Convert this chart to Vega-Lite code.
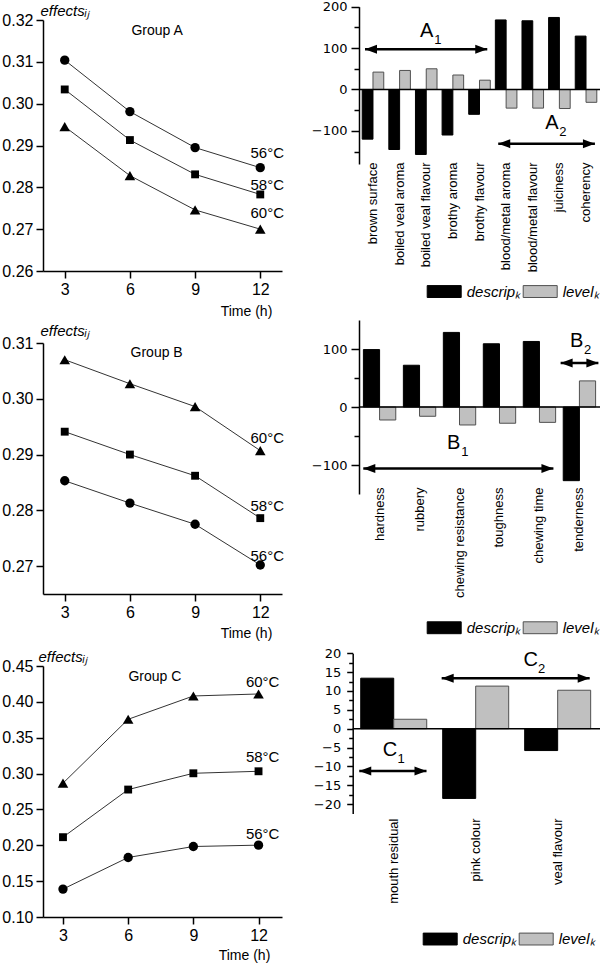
{
"$schema": "https://vega.github.io/schema/vega-lite/v6.json",
"autosize": {"type": "none"},
"padding": {"left": 43, "top": 20, "right": 557, "bottom": 946},
"background": "white",
"config": {
  "view": {"stroke": null},
  "axis": {"domainColor": "black", "domainWidth": 1.5, "tickColor": "black", "tickWidth": 1.5, "labelColor": "black", "titleColor": "black", "grid": false, "labelFont": "Liberation Sans", "titleFont": "Liberation Sans", "titleFontWeight": "normal", "labelOverlap": false},
  "text": {"font": "Liberation Sans", "color": "black"},
  "legend": {"labelColor": "black"}
},
"datasets": {
  "lines": [
    {"g":"A","t":"56","h":3,"v":0.3104},{"g":"A","t":"56","h":6,"v":0.2981},{"g":"A","t":"56","h":9,"v":0.2895},{"g":"A","t":"56","h":12,"v":0.2847},
    {"g":"A","t":"58","h":3,"v":0.3034},{"g":"A","t":"58","h":6,"v":0.2913},{"g":"A","t":"58","h":9,"v":0.2831},{"g":"A","t":"58","h":12,"v":0.2783},
    {"g":"A","t":"60","h":3,"v":0.2945},{"g":"A","t":"60","h":6,"v":0.2828},{"g":"A","t":"60","h":9,"v":0.2746},{"g":"A","t":"60","h":12,"v":0.2700},
    {"g":"B","t":"60","h":3,"v":0.3070},{"g":"B","t":"60","h":6,"v":0.3027},{"g":"B","t":"60","h":9,"v":0.2986},{"g":"B","t":"60","h":12,"v":0.2907},
    {"g":"B","t":"58","h":3,"v":0.2941},{"g":"B","t":"58","h":6,"v":0.2900},{"g":"B","t":"58","h":9,"v":0.2862},{"g":"B","t":"58","h":12,"v":0.2786},
    {"g":"B","t":"56","h":3,"v":0.2853},{"g":"B","t":"56","h":6,"v":0.2813},{"g":"B","t":"56","h":9,"v":0.2775},{"g":"B","t":"56","h":12,"v":0.2702},
    {"g":"C","t":"60","h":3,"v":0.2866},{"g":"C","t":"60","h":6,"v":0.3757},{"g":"C","t":"60","h":9,"v":0.4082},{"g":"C","t":"60","h":12,"v":0.4110},
    {"g":"C","t":"58","h":3,"v":0.2113},{"g":"C","t":"58","h":6,"v":0.2777},{"g":"C","t":"58","h":9,"v":0.3004},{"g":"C","t":"58","h":12,"v":0.3032},
    {"g":"C","t":"56","h":3,"v":0.1389},{"g":"C","t":"56","h":6,"v":0.1830},{"g":"C","t":"56","h":9,"v":0.1983},{"g":"C","t":"56","h":12,"v":0.2002}
  ],
  "tlabels": [
    {"g":"A","lab":"56°C","h":12.32,"v":0.2882},{"g":"A","lab":"58°C","h":12.32,"v":0.2806},{"g":"A","lab":"60°C","h":12.32,"v":0.2739},
    {"g":"B","lab":"60°C","h":12.32,"v":0.2929},{"g":"B","lab":"58°C","h":12.32,"v":0.2807},{"g":"B","lab":"56°C","h":12.32,"v":0.2719},
    {"g":"C","lab":"60°C","h":12.19,"v":0.4281},{"g":"C","lab":"58°C","h":12.19,"v":0.3237},{"g":"C","lab":"56°C","h":12.19,"v":0.216}
  ],
  "glabels": [
    {"g":"A","lab":"Group A","h":7.25,"v":0.3174},
    {"g":"B","lab":"Group B","h":7.23,"v":0.3082},
    {"g":"C","lab":"Group C","h":7.23,"v":0.435}
  ],
  "bars": [
    {"g":"A","attr":"brown surface","s":"descrip","v":-120},{"g":"A","attr":"brown surface","s":"level","v":42},
    {"g":"A","attr":"boiled veal aroma","s":"descrip","v":-145},{"g":"A","attr":"boiled veal aroma","s":"level","v":46},
    {"g":"A","attr":"boiled veal flavour","s":"descrip","v":-157},{"g":"A","attr":"boiled veal flavour","s":"level","v":50},
    {"g":"A","attr":"brothy aroma","s":"descrip","v":-110},{"g":"A","attr":"brothy aroma","s":"level","v":35},
    {"g":"A","attr":"brothy flavour","s":"descrip","v":-60},{"g":"A","attr":"brothy flavour","s":"level","v":22.5},
    {"g":"A","attr":"blood/metal aroma","s":"descrip","v":168},{"g":"A","attr":"blood/metal aroma","s":"level","v":-45},
    {"g":"A","attr":"blood/metal flavour","s":"descrip","v":166},{"g":"A","attr":"blood/metal flavour","s":"level","v":-45},
    {"g":"A","attr":"juiciness","s":"descrip","v":174},{"g":"A","attr":"juiciness","s":"level","v":-46},
    {"g":"A","attr":"coherency","s":"descrip","v":129},{"g":"A","attr":"coherency","s":"level","v":-31},
    {"g":"B","attr":"hardness","s":"descrip","v":99},{"g":"B","attr":"hardness","s":"level","v":-22.4},
    {"g":"B","attr":"rubbery","s":"descrip","v":72},{"g":"B","attr":"rubbery","s":"level","v":-16},
    {"g":"B","attr":"chewing resistance","s":"descrip","v":128.6},{"g":"B","attr":"chewing resistance","s":"level","v":-31},
    {"g":"B","attr":"toughness","s":"descrip","v":109},{"g":"B","attr":"toughness","s":"level","v":-28},
    {"g":"B","attr":"chewing time","s":"descrip","v":113},{"g":"B","attr":"chewing time","s":"level","v":-26.5},
    {"g":"B","attr":"tenderness","s":"descrip","v":-127},{"g":"B","attr":"tenderness","s":"level","v":45},
    {"g":"C","attr":"mouth residual","s":"descrip","v":13.4},{"g":"C","attr":"mouth residual","s":"level","v":2.5},
    {"g":"C","attr":"pink colour","s":"descrip","v":-18.5},{"g":"C","attr":"pink colour","s":"level","v":11.3},
    {"g":"C","attr":"veal flavour","s":"descrip","v":-5.8},{"g":"C","attr":"veal flavour","s":"level","v":10.2}
  ],
  "arrows": [
    {"g":"A","x":0.224,"x2":4.79,"v":97},
    {"g":"A","x":5.2,"x2":8.81,"v":-131},
    {"g":"B","x":0.107,"x2":4.84,"v":-106},
    {"g":"B","x":5.02,"x2":5.96,"v":76},
    {"g":"C","x":0.08,"x2":0.9,"v":-11.2},
    {"g":"C","x":1.085,"x2":2.89,"v":13.4}
  ],
  "letters": [
    {"g":"A","L":"A","sub":"1","x":2.53,"v":141},
    {"g":"A","L":"A","sub":"2","x":7.2,"v":-82},
    {"g":"B","L":"B","sub":"1","x":2.36,"v":-62},
    {"g":"B","L":"B","sub":"2","x":5.42,"v":113},
    {"g":"C","L":"C","sub":"1","x":0.455,"v":-5.65},
    {"g":"C","L":"C","sub":"2","x":2.17,"v":18.2}
  ],
  "zeros": [
    {"g":"A","x":0,"x2":9,"v":0},
    {"g":"B","x":0,"x2":6,"v":0},
    {"g":"C","x":0,"x2":3.02,"v":0}
  ]
},
"columns": 2,
"spacing": {"row": 72, "column": 77},
"bounds": "flush",
"resolve": {"scale": {"fill": "independent", "stroke": "independent", "shape": "independent", "size": "independent"}},
"concat": [
  {
    "width": 239, "height": 251,
    "encoding": {
      "x": {"field": "h", "type": "quantitative", "scale": {"domain": [2, 13], "nice": false, "zero": false},
            "axis": {"values": [3, 6, 9, 12], "labelOverlap": false, "tickSize": 7, "labelPadding": 3, "labelFontSize": 16, "title": "Time (h)", "titleX": 203, "titleY": 40, "titleAlign": "center", "titleBaseline": "middle", "titleFontSize": 14}},
      "y": {"field": "v", "type": "quantitative", "scale": {"domain": [0.26, 0.32], "nice": false, "zero": false},
            "axis": {"values": [0.26, 0.27, 0.28, 0.29, 0.30, 0.31, 0.32], "labelOverlap": false, "format": ".2f", "tickSize": 7, "labelPadding": 3, "labelFontSize": 16, "title": "effectsᵢⱼ", "titleAngle": 0, "titleX": -3, "titleY": -10, "titleAlign": "left", "titleBaseline": "middle", "titleFontStyle": "italic", "titleFontSize": 15}}
    },
    "layer": [
      {"data": {"name": "lines"}, "transform": [{"filter": "datum.g === 'A'"}],
       "mark": {"type": "line", "stroke": "#333333", "strokeWidth": 1},
       "encoding": {"detail": {"field": "t", "type": "nominal"}}},
      {"data": {"name": "lines"}, "transform": [{"filter": "datum.g === 'A'"}],
       "mark": {"type": "point", "filled": true, "color": "black", "opacity": 1, "strokeWidth": 0},
       "encoding": {
         "shape": {"field": "t", "type": "nominal", "scale": {"domain": ["56", "58", "60"], "range": ["circle", "square", "triangle-up"]}, "legend": null},
         "size": {"field": "t", "type": "ordinal", "scale": {"type": "point", "padding": 0, "domain": ["58", "56", "60"], "range": [62, 112]}, "legend": null}
       }},
      {"data": {"name": "tlabels"}, "transform": [{"filter": "datum.g === 'A'"}],
       "mark": {"type": "text", "fontSize": 15, "align": "center", "baseline": "middle"},
       "encoding": {"text": {"field": "lab"}}},
      {"data": {"name": "glabels"}, "transform": [{"filter": "datum.g === 'A'"}],
       "mark": {"type": "text", "fontSize": 14, "align": "center", "baseline": "middle"},
       "encoding": {"text": {"field": "lab"}}}
    ]
  },
  {
    "width": 241, "height": 140,
    "encoding": {
      "y": {"field": "v", "type": "quantitative", "scale": {"domain": [-180, 200], "range": [144, -13.3], "nice": false},
            "axis": {"values": [-150, -100, -50, 0, 50, 100, 150, 200], "labelOverlap": false, "labelExpr": "datum.value % 100 === 0 ? datum.label : ''", "tickSize": {"condition": {"test": "datum.value % 100 === 0", "value": 8}, "value": 5}, "labelPadding": 4, "labelFont": "DejaVu Sans", "labelFontSize": 13, "title": null}}
    },
    "layer": [
      {"encoding": {
         "x": {"field": "attr", "type": "nominal", "sort": null, "scale": {"range": [0, 241], "paddingInner": 0.19, "paddingOuter": 0.12},
               "axis": {"orient": "bottom", "labelAngle": -90, "domain": false, "ticks": false, "labelPadding": 2, "title": null, "labelFontSize": 13, "labelLimit": 200}},
         "fill": {"field": "s", "type": "nominal", "scale": {"domain": ["descrip", "level"], "range": ["#000000", "#c0c0c0"]},
                  "legend": {"orient": "none", "legendX": 67.7, "legendY": 253.8, "direction": "horizontal", "title": null, "symbolType": "M-1,-0.35H1V0.35H-1Z", "symbolSize": 1156, "symbolStrokeWidth": 1, "labelExpr": "datum.label + 'ₖ'", "labelFontStyle": "italic", "labelFont": "Liberation Sans", "labelFontSize": 15, "labelOffset": 5, "columnPadding": 0, "padding": 0}},
         "stroke": {"field": "s", "type": "nominal", "scale": {"domain": ["descrip", "level"], "range": ["#000000", "#505050"]},
                  "legend": {"orient": "none", "legendX": 67.7, "legendY": 253.8, "direction": "horizontal", "title": null, "symbolType": "M-1,-0.35H1V0.35H-1Z", "symbolSize": 1156, "symbolStrokeWidth": 1, "labelExpr": "datum.label + 'ₖ'", "labelFontStyle": "italic", "labelFont": "Liberation Sans", "labelFontSize": 15, "labelOffset": 5, "columnPadding": 0, "padding": 0}}
       },
       "layer": [
        {"data": {"name": "bars"}, "transform": [{"filter": "datum.g === 'A' && datum.s === 'descrip'"}],
         "mark": {"type": "bar", "strokeWidth": 1, "width": {"band": 0.5}, "xOffset": -5.39}},
        {"data": {"name": "bars"}, "transform": [{"filter": "datum.g === 'A' && datum.s === 'level'"}],
         "mark": {"type": "bar", "strokeWidth": 1, "width": {"band": 0.5}, "xOffset": 5.39}}
      ]},
      {"encoding": {"x": {"field": "x", "type": "quantitative", "scale": {"domain": [0, 9], "range": [0, 241], "nice": false, "zero": false}, "axis": null}},
       "layer": [
        {"data": {"name": "zeros"}, "transform": [{"filter": "datum.g === 'A'"}],
         "mark": {"type": "rule", "color": "black", "strokeWidth": 1.5},
         "encoding": {"x2": {"field": "x2"}}},
        {"data": {"name": "arrows"}, "transform": [{"filter": "datum.g === 'A'"}],
         "mark": {"type": "rule", "color": "black", "strokeWidth": 2.5},
         "encoding": {"x2": {"field": "x2"}}},
        {"data": {"name": "arrows"}, "transform": [{"filter": "datum.g === 'A'"}],
         "mark": {"type": "point", "shape": "M0,0L2.4,-0.9L2.4,0.9Z", "filled": true, "color": "black", "size": 100, "strokeWidth": 0, "opacity": 1}},
        {"data": {"name": "arrows"}, "transform": [{"filter": "datum.g === 'A'"}],
         "mark": {"type": "point", "shape": "M0,0L-2.4,-0.9L-2.4,0.9Z", "filled": true, "color": "black", "size": 100, "strokeWidth": 0, "opacity": 1},
         "encoding": {"x": {"field": "x2", "type": "quantitative", "axis": null}}},
        {"data": {"name": "letters"}, "transform": [{"filter": "datum.g === 'A'"}],
         "mark": {"type": "text", "fontSize": 20, "align": "center", "baseline": "middle"},
         "encoding": {"text": {"field": "L"}}},
        {"data": {"name": "letters"}, "transform": [{"filter": "datum.g === 'A'"}],
         "mark": {"type": "text", "fontSize": 13, "align": "center", "baseline": "middle", "dx": 11, "dy": 9},
         "encoding": {"text": {"field": "sub"}}}
      ]}
    ],
    "resolve": {"scale": {"x": "independent"}}
  },
  {
    "width": 239, "height": 251,
    "encoding": {
      "x": {"field": "h", "type": "quantitative", "scale": {"domain": [2, 13], "nice": false, "zero": false},
            "axis": {"values": [3, 6, 9, 12], "labelOverlap": false, "tickSize": 7, "labelPadding": 3, "labelFontSize": 16, "title": "Time (h)", "titleX": 203, "titleY": 39, "titleAlign": "center", "titleBaseline": "middle", "titleFontSize": 14}},
      "y": {"field": "v", "type": "quantitative", "scale": {"domain": [0.265, 0.31], "nice": false, "zero": false},
            "axis": {"values": [0.27, 0.28, 0.29, 0.30, 0.31], "labelOverlap": false, "format": ".2f", "tickSize": 7, "labelPadding": 3, "labelFontSize": 16, "title": "effectsᵢⱼ", "titleAngle": 0, "titleX": -3, "titleY": -13, "titleAlign": "left", "titleBaseline": "middle", "titleFontStyle": "italic", "titleFontSize": 15}}
    },
    "layer": [
      {"data": {"name": "lines"}, "transform": [{"filter": "datum.g === 'B'"}],
       "mark": {"type": "line", "stroke": "#333333", "strokeWidth": 1},
       "encoding": {"detail": {"field": "t", "type": "nominal"}}},
      {"data": {"name": "lines"}, "transform": [{"filter": "datum.g === 'B'"}],
       "mark": {"type": "point", "filled": true, "color": "black", "opacity": 1, "strokeWidth": 0},
       "encoding": {
         "shape": {"field": "t", "type": "nominal", "scale": {"domain": ["56", "58", "60"], "range": ["circle", "square", "triangle-up"]}, "legend": null},
         "size": {"field": "t", "type": "ordinal", "scale": {"type": "point", "padding": 0, "domain": ["58", "56", "60"], "range": [62, 112]}, "legend": null}
       }},
      {"data": {"name": "tlabels"}, "transform": [{"filter": "datum.g === 'B'"}],
       "mark": {"type": "text", "fontSize": 15, "align": "center", "baseline": "middle"},
       "encoding": {"text": {"field": "lab"}}},
      {"data": {"name": "glabels"}, "transform": [{"filter": "datum.g === 'B'"}],
       "mark": {"type": "text", "fontSize": 14, "align": "center", "baseline": "middle"},
       "encoding": {"text": {"field": "lab"}}}
    ]
  },
  {
    "width": 241, "height": 142,
    "encoding": {
      "y": {"field": "v", "type": "quantitative", "scale": {"domain": [-150, 150], "range": [151, -23], "nice": false},
            "axis": {"values": [-100, -50, 0, 50, 100], "labelOverlap": false, "labelExpr": "datum.value % 100 === 0 ? datum.label : ''", "tickSize": {"condition": {"test": "datum.value % 100 === 0", "value": 8}, "value": 5}, "labelPadding": 4, "labelFont": "DejaVu Sans", "labelFontSize": 13, "title": null}}
    },
    "layer": [
      {"encoding": {
         "x": {"field": "attr", "type": "nominal", "sort": null, "scale": {"range": [0, 241], "paddingInner": 0.19, "paddingOuter": 0.11},
               "axis": {"orient": "bottom", "labelAngle": -90, "domain": false, "ticks": false, "labelPadding": 2, "title": null, "labelFontSize": 13, "labelLimit": 200}},
         "fill": {"field": "s", "type": "nominal", "scale": {"domain": ["descrip", "level"], "range": ["#000000", "#c0c0c0"]},
                  "legend": {"orient": "none", "legendX": 67.7, "legendY": 267, "direction": "horizontal", "title": null, "symbolType": "M-1,-0.35H1V0.35H-1Z", "symbolSize": 1156, "symbolStrokeWidth": 1, "labelExpr": "datum.label + 'ₖ'", "labelFontStyle": "italic", "labelFont": "Liberation Sans", "labelFontSize": 15, "labelOffset": 5, "columnPadding": 0, "padding": 0}},
         "stroke": {"field": "s", "type": "nominal", "scale": {"domain": ["descrip", "level"], "range": ["#000000", "#505050"]},
                  "legend": {"orient": "none", "legendX": 67.7, "legendY": 267, "direction": "horizontal", "title": null, "symbolType": "M-1,-0.35H1V0.35H-1Z", "symbolSize": 1156, "symbolStrokeWidth": 1, "labelExpr": "datum.label + 'ₖ'", "labelFontStyle": "italic", "labelFont": "Liberation Sans", "labelFontSize": 15, "labelOffset": 5, "columnPadding": 0, "padding": 0}}
       },
       "layer": [
        {"data": {"name": "bars"}, "transform": [{"filter": "datum.g === 'B' && datum.s === 'descrip'"}],
         "mark": {"type": "bar", "strokeWidth": 1, "width": {"band": 0.5}, "xOffset": -8.09}},
        {"data": {"name": "bars"}, "transform": [{"filter": "datum.g === 'B' && datum.s === 'level'"}],
         "mark": {"type": "bar", "strokeWidth": 1, "width": {"band": 0.5}, "xOffset": 8.09}}
      ]},
      {"encoding": {"x": {"field": "x", "type": "quantitative", "scale": {"domain": [0, 6], "range": [0, 241], "nice": false, "zero": false}, "axis": null}},
       "layer": [
        {"data": {"name": "zeros"}, "transform": [{"filter": "datum.g === 'B'"}],
         "mark": {"type": "rule", "color": "black", "strokeWidth": 1.5},
         "encoding": {"x2": {"field": "x2"}}},
        {"data": {"name": "arrows"}, "transform": [{"filter": "datum.g === 'B'"}],
         "mark": {"type": "rule", "color": "black", "strokeWidth": 2.5},
         "encoding": {"x2": {"field": "x2"}}},
        {"data": {"name": "arrows"}, "transform": [{"filter": "datum.g === 'B'"}],
         "mark": {"type": "point", "shape": "M0,0L2.4,-0.9L2.4,0.9Z", "filled": true, "color": "black", "size": 100, "strokeWidth": 0, "opacity": 1}},
        {"data": {"name": "arrows"}, "transform": [{"filter": "datum.g === 'B'"}],
         "mark": {"type": "point", "shape": "M0,0L-2.4,-0.9L-2.4,0.9Z", "filled": true, "color": "black", "size": 100, "strokeWidth": 0, "opacity": 1},
         "encoding": {"x": {"field": "x2", "type": "quantitative", "axis": null}}},
        {"data": {"name": "letters"}, "transform": [{"filter": "datum.g === 'B'"}],
         "mark": {"type": "text", "fontSize": 20, "align": "center", "baseline": "middle"},
         "encoding": {"text": {"field": "L"}}},
        {"data": {"name": "letters"}, "transform": [{"filter": "datum.g === 'B'"}],
         "mark": {"type": "text", "fontSize": 13, "align": "center", "baseline": "middle", "dx": 11, "dy": 9},
         "encoding": {"text": {"field": "sub"}}}
      ]}
    ],
    "resolve": {"scale": {"x": "independent"}}
  },
  {
    "width": 239, "height": 251,
    "encoding": {
      "x": {"field": "h", "type": "quantitative", "scale": {"domain": [2.08, 13.08], "nice": false, "zero": false},
            "axis": {"values": [3, 6, 9, 12], "labelOverlap": false, "tickSize": 7, "labelPadding": 3, "labelFontSize": 16, "title": "Time (h)", "titleX": 201, "titleY": 38, "titleAlign": "center", "titleBaseline": "middle", "titleFontSize": 14}},
      "y": {"field": "v", "type": "quantitative", "scale": {"domain": [0.10, 0.45], "nice": false, "zero": false},
            "axis": {"values": [0.10, 0.15, 0.20, 0.25, 0.30, 0.35, 0.40, 0.45], "labelOverlap": false, "format": ".2f", "tickSize": 7, "labelPadding": 3, "labelFontSize": 16, "title": "effectsᵢⱼ", "titleAngle": 0, "titleX": -5, "titleY": -10, "titleAlign": "left", "titleBaseline": "middle", "titleFontStyle": "italic", "titleFontSize": 15}}
    },
    "layer": [
      {"data": {"name": "lines"}, "transform": [{"filter": "datum.g === 'C'"}],
       "mark": {"type": "line", "stroke": "#333333", "strokeWidth": 1},
       "encoding": {"detail": {"field": "t", "type": "nominal"}}},
      {"data": {"name": "lines"}, "transform": [{"filter": "datum.g === 'C'"}],
       "mark": {"type": "point", "filled": true, "color": "black", "opacity": 1, "strokeWidth": 0},
       "encoding": {
         "shape": {"field": "t", "type": "nominal", "scale": {"domain": ["56", "58", "60"], "range": ["circle", "square", "triangle-up"]}, "legend": null},
         "size": {"field": "t", "type": "ordinal", "scale": {"type": "point", "padding": 0, "domain": ["58", "56", "60"], "range": [62, 112]}, "legend": null}
       }},
      {"data": {"name": "tlabels"}, "transform": [{"filter": "datum.g === 'C'"}],
       "mark": {"type": "text", "fontSize": 15, "align": "center", "baseline": "middle"},
       "encoding": {"text": {"field": "lab"}}},
      {"data": {"name": "glabels"}, "transform": [{"filter": "datum.g === 'C'"}],
       "mark": {"type": "text", "fontSize": 14, "align": "center", "baseline": "middle"},
       "encoding": {"text": {"field": "lab"}}}
    ]
  },
  {
    "width": 241, "height": 150,
    "encoding": {
      "y": {"field": "v", "type": "quantitative", "scale": {"domain": [-22.5, 20], "range": [147.5, -12.7], "nice": false},
            "axis": {"offset": 6.3, "values": [-20, -17.5, -15, -12.5, -10, -7.5, -5, -2.5, 0, 2.5, 5, 7.5, 10, 12.5, 15, 17.5, 20], "labelOverlap": false, "labelExpr": "datum.value % 5 === 0 ? datum.label : ''", "tickSize": {"condition": {"test": "datum.value % 5 === 0", "value": 6}, "value": 4}, "labelPadding": 6, "labelFont": "DejaVu Sans", "labelFontSize": 13, "title": null}}
    },
    "layer": [
      {"encoding": {
         "x": {"field": "attr", "type": "nominal", "sort": null, "scale": {"range": [-6.3, 239.7], "paddingInner": 0.195, "paddingOuter": 0.098},
               "axis": {"orient": "bottom", "labelAngle": -90, "domain": false, "ticks": false, "labelPadding": 2, "title": null, "labelFontSize": 13, "labelLimit": 200}},
         "fill": {"field": "s", "type": "nominal", "scale": {"domain": ["descrip", "level"], "range": ["#000000", "#c0c0c0"]},
                  "legend": {"orient": "none", "legendX": 63.7, "legendY": 255.3, "direction": "horizontal", "title": null, "symbolType": "M-1,-0.35H1V0.35H-1Z", "symbolSize": 1156, "symbolStrokeWidth": 1, "labelExpr": "datum.label + 'ₖ'", "labelFontStyle": "italic", "labelFont": "Liberation Sans", "labelFontSize": 15, "labelOffset": 5, "columnPadding": 0, "padding": 0}},
         "stroke": {"field": "s", "type": "nominal", "scale": {"domain": ["descrip", "level"], "range": ["#000000", "#505050"]},
                  "legend": {"orient": "none", "legendX": 63.7, "legendY": 255.3, "direction": "horizontal", "title": null, "symbolType": "M-1,-0.35H1V0.35H-1Z", "symbolSize": 1156, "symbolStrokeWidth": 1, "labelExpr": "datum.label + 'ₖ'", "labelFontStyle": "italic", "labelFont": "Liberation Sans", "labelFontSize": 15, "labelOffset": 5, "columnPadding": 0, "padding": 0}}
       },
       "layer": [
        {"data": {"name": "bars"}, "transform": [{"filter": "datum.g === 'C' && datum.s === 'descrip'"}],
         "mark": {"type": "bar", "strokeWidth": 1, "width": {"band": 0.5}, "xOffset": -16.5}},
        {"data": {"name": "bars"}, "transform": [{"filter": "datum.g === 'C' && datum.s === 'level'"}],
         "mark": {"type": "bar", "strokeWidth": 1, "width": {"band": 0.5}, "xOffset": 16.5}}
      ]},
      {"encoding": {"x": {"field": "x", "type": "quantitative", "scale": {"domain": [0, 3], "range": [-6.3, 239.7], "nice": false, "zero": false}, "axis": null}},
       "layer": [
        {"data": {"name": "zeros"}, "transform": [{"filter": "datum.g === 'C'"}],
         "mark": {"type": "rule", "color": "black", "strokeWidth": 1.5},
         "encoding": {"x2": {"field": "x2"}}},
        {"data": {"name": "arrows"}, "transform": [{"filter": "datum.g === 'C'"}],
         "mark": {"type": "rule", "color": "black", "strokeWidth": 2.5},
         "encoding": {"x2": {"field": "x2"}}},
        {"data": {"name": "arrows"}, "transform": [{"filter": "datum.g === 'C'"}],
         "mark": {"type": "point", "shape": "M0,0L2.4,-0.9L2.4,0.9Z", "filled": true, "color": "black", "size": 100, "strokeWidth": 0, "opacity": 1}},
        {"data": {"name": "arrows"}, "transform": [{"filter": "datum.g === 'C'"}],
         "mark": {"type": "point", "shape": "M0,0L-2.4,-0.9L-2.4,0.9Z", "filled": true, "color": "black", "size": 100, "strokeWidth": 0, "opacity": 1},
         "encoding": {"x": {"field": "x2", "type": "quantitative", "axis": null}}},
        {"data": {"name": "letters"}, "transform": [{"filter": "datum.g === 'C'"}],
         "mark": {"type": "text", "fontSize": 20, "align": "center", "baseline": "middle"},
         "encoding": {"text": {"field": "L"}}},
        {"data": {"name": "letters"}, "transform": [{"filter": "datum.g === 'C'"}],
         "mark": {"type": "text", "fontSize": 13, "align": "center", "baseline": "middle", "dx": 11, "dy": 9},
         "encoding": {"text": {"field": "sub"}}}
      ]}
    ],
    "resolve": {"scale": {"x": "independent"}}
  }
]
}
